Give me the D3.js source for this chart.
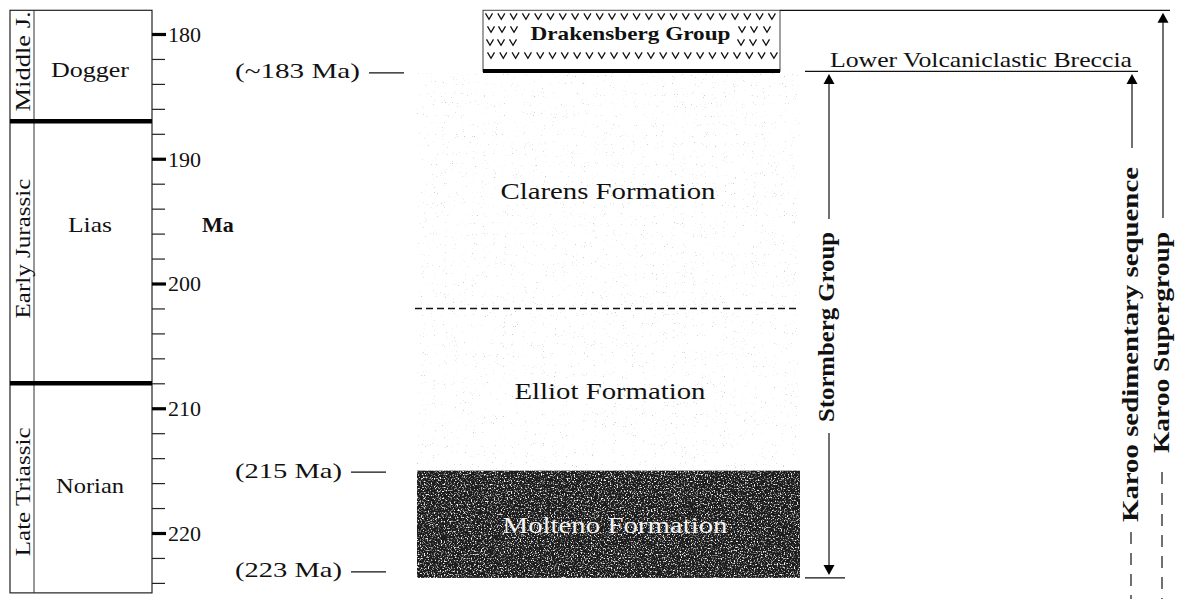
<!DOCTYPE html>
<html><head><meta charset="utf-8">
<script src="https://cdn.jsdelivr.net/npm/d3@7"></script>
<style>
body{margin:0;background:#fff;}
svg text{font-family:"Liberation Serif","Times New Roman",serif;fill:#111;}
</style></head><body>
<svg id="c" width="1179" height="599"></svg>
<script>
// ---------- data ----------
const ticksMajor = [180, 190, 200, 210, 220];
const ticksMinor = d3.range(180, 225, 2);
const periods = ["Middle J.", "Early Jurassic", "Late Triassic"];
const periodTops = [178.1, 187, 208];
const periodBases = [187, 208, 224.8];
const periodLabelAges = [182.2, 197.2, 216.7];
const periodLabelLen = [100, 140, 129];
const stages = ["Dogger", "Lias", "Norian"];
const stageLabelAges = [182.9, 195.3, 216.2];
const stageLabelLen = [78, 44, 68];
const units = ["Drakensberg Group", "Clarens Formation", "Elliot Formation", "Molteno Formation"];
const unitTops = [178.1, 183, 202, 215];
const unitBases = [183, 202, 215, 223.6];
const dateLabels = ["(~183 Ma)", "(215 Ma)", "(223 Ma)"];
const dateAges = [183, 215, 223];
const brackets = ["Stormberg Group", "Karoo sedimentary sequence", "Karoo Supergroup"];
const bracketTops = [183, 183, 178.1];
const breccia = "Lower Volcaniclastic Breccia";
const axisTitle = "Ma";

// ---------- setup ----------
const svg = d3.select("#c");
const y = d3.scaleLinear().domain([180, 220]).range([34, 533]);
const defs = svg.append("defs");

// speckle filter for Molteno
const fm = defs.append("filter").attr("id", "speck").attr("x", 0).attr("y", 0).attr("width", 1).attr("height", 1);
fm.append("feTurbulence").attr("type", "fractalNoise").attr("baseFrequency", 0.7).attr("numOctaves", 2).attr("seed", 7).attr("result", "n");
fm.append("feColorMatrix").attr("in", "n").attr("type", "matrix")
  .attr("values", "0 0 0 0 0.92  0 0 0 0 0.92  0 0 0 0 0.92  4.5 0 0 0 -2.35");
// stipple filter for Clarens/Elliot
const fs = defs.append("filter").attr("id", "stip").attr("x", 0).attr("y", 0).attr("width", 1).attr("height", 1);
fs.append("feTurbulence").attr("type", "fractalNoise").attr("baseFrequency", 0.9).attr("numOctaves", 2).attr("seed", 3).attr("result", "n");
fs.append("feColorMatrix").attr("in", "n").attr("type", "matrix")
  .attr("values", "0 0 0 0 0.6  0 0 0 0 0.6  0 0 0 0 0.6  7 0 0 0 -4.95");

// ---------- left column ----------
const colL = 10, colDiv = 34, colR = 152;
const left = svg.append("g");
left.append("rect").attr("x", colL).attr("y", y(periodTops[0])).attr("width", colR - colL)
  .attr("height", y(periodBases[2]) - y(periodTops[0])).attr("fill", "none").attr("stroke", "#222").attr("stroke-width", 1.2);
left.append("line").attr("x1", colDiv).attr("x2", colDiv).attr("y1", y(periodTops[0])).attr("y2", y(periodBases[2]))
  .attr("stroke", "#333").attr("stroke-width", 1);
left.selectAll("line.bound").data(periodTops.slice(1)).join("line").attr("class", "bound")
  .attr("x1", colL).attr("x2", colR).attr("y1", d => y(d)).attr("y2", d => y(d))
  .attr("stroke", "#000").attr("stroke-width", 4.5);
periods.forEach((p, i) => {
  left.append("text").attr("transform", `translate(30,${y(periodLabelAges[i])}) rotate(-90)`)
    .attr("text-anchor", "middle").attr("font-size", 22)
    .attr("textLength", periodLabelLen[i]).attr("lengthAdjust", "spacingAndGlyphs").text(p);
});
stages.forEach((s, i) => {
  left.append("text").attr("x", 90).attr("y", y(stageLabelAges[i]) + 7)
    .attr("text-anchor", "middle").attr("font-size", 22)
    .attr("textLength", stageLabelLen[i]).attr("lengthAdjust", "spacingAndGlyphs").text(s);
});

// axis
const gMinor = svg.append("g").attr("transform", `translate(${colR},0)`)
  .call(d3.axisRight(y).tickValues(ticksMinor).tickSize(13).tickFormat(""));
gMinor.select(".domain").remove();
gMinor.selectAll(".tick line").attr("stroke", "#222").attr("stroke-width", 1.2);
const gMajor = svg.append("g").attr("transform", `translate(${colR},0)`)
  .call(d3.axisRight(y).tickValues(ticksMajor).tickSize(14).tickPadding(2).tickFormat(d3.format("d")));
gMajor.select(".domain").remove();
gMajor.selectAll(".tick line").attr("stroke", "#000").attr("stroke-width", 3.2);
gMajor.selectAll(".tick text").attr("font-size", 22).attr("font-family", "Liberation Serif, serif").attr("fill", "#111").attr("dy", "0.33em");
svg.append("text").attr("x", 218).attr("y", y(195.3) + 7).attr("text-anchor", "middle")
  .attr("font-size", 22).attr("font-weight", "bold").text(axisTitle);

// ---------- central column ----------
const cx0 = 417, cx1 = 800;      // sedimentary column
const dx0 = 483, dx1 = 780;      // Drakensberg box
const mid = svg.append("g");
// stipple (Clarens + Elliot)
mid.append("rect").attr("x", cx0).attr("y", y(unitTops[1]) + 2).attr("width", cx1 - cx0)
  .attr("height", y(unitBases[2]) - y(unitTops[1]) - 2).attr("fill", "#fff").attr("filter", "url(#stip)");
// dashed boundary Clarens/Elliot
mid.append("line").attr("x1", cx0 - 2).attr("x2", cx1 - 2).attr("y1", y(unitBases[1])).attr("y2", y(unitBases[1]))
  .attr("stroke", "#111").attr("stroke-width", 1.5).attr("stroke-dasharray", "7,4");
// Molteno
mid.append("rect").attr("x", cx0).attr("y", y(unitTops[3])).attr("width", cx1 - cx0)
  .attr("height", y(unitBases[3]) - y(unitTops[3])).attr("fill", "#1c1c1c");
mid.append("rect").attr("x", cx0).attr("y", y(unitTops[3])).attr("width", cx1 - cx0)
  .attr("height", y(unitBases[3]) - y(unitTops[3])).attr("fill", "#fff").attr("filter", "url(#speck)");
// Drakensberg
mid.append("rect").attr("x", dx0).attr("y", y(unitTops[0])).attr("width", dx1 - dx0)
  .attr("height", y(unitBases[0]) - y(unitTops[0])).attr("fill", "#fff").attr("stroke", "#444").attr("stroke-width", 1);
const vPath = "M-3.5,-3 L0,3 L3.5,-3";
const vMarks = [];
const yT = y(unitTops[0]);
for (let x = dx0 + 6; x < dx1 - 3; x += 12.3) { vMarks.push([x, yT + 6]); vMarks.push([x + 2, yT + 45]); }
[dx0 + 8, dx0 + 19, dx0 + 31].forEach(x => { vMarks.push([x, yT + 19]); vMarks.push([x - 1, yT + 32]); });
[dx1 - 38, dx1 - 26, dx1 - 13].forEach(x => { vMarks.push([x, yT + 19]); vMarks.push([x - 1, yT + 32]); });
mid.selectAll("path.v").data(vMarks).join("path").attr("class", "v")
  .attr("d", vPath).attr("transform", d => `translate(${d[0]},${d[1]})`)
  .attr("fill", "none").attr("stroke", "#111").attr("stroke-width", 1.3);
mid.append("line").attr("x1", dx0).attr("x2", dx1).attr("y1", y(unitBases[0]) - 0.5).attr("y2", y(unitBases[0]) - 0.5)
  .attr("stroke", "#000").attr("stroke-width", 4);
mid.append("text").attr("x", (dx0 + dx1) / 2 - 1).attr("y", y(unitTops[0]) + 30).attr("text-anchor", "middle")
  .attr("font-size", 19).attr("font-weight", "bold").attr("textLength", 200).attr("lengthAdjust", "spacingAndGlyphs").text(units[0]);

// formation labels
const unitLabelLen = [200, 215, 191, 225];
const unitLabelX = [0, 608, 610, 615];
[1, 2, 3].forEach(i => {
  mid.append("text").attr("x", unitLabelX[i]).attr("y", y((unitTops[i] + unitBases[i]) / 2) + 9)
    .attr("text-anchor", "middle").attr("font-size", 24)
    .attr("textLength", unitLabelLen[i]).attr("lengthAdjust", "spacingAndGlyphs")
    .style("fill", i === 3 ? "#f4f4f4" : "#111").text(units[i]);
});

// date labels
const dateLen = [125, 107, 107];
dateLabels.forEach((t, i) => {
  const yy = y(dateAges[i]);
  mid.append("text").attr("x", 235).attr("y", yy + 7).attr("font-size", 22)
    .attr("textLength", dateLen[i]).attr("lengthAdjust", "spacingAndGlyphs").text(t);
  const x0 = 235 + dateLen[i] + 9;
  mid.append("line").attr("x1", x0).attr("x2", x0 + 35).attr("y1", yy + 1.5).attr("y2", yy + 1.5)
    .attr("stroke", "#111").attr("stroke-width", 1.3);
});

// ---------- right brackets ----------
const right = svg.append("g");
const st = "#111";
function arrowUp(x, tip) {
  right.append("path").attr("d", `M${x},${tip} L${x - 5.5},${tip + 10} L${x + 5.5},${tip + 10} Z`).attr("fill", "#000");
}
function arrowDown(x, tip) {
  right.append("path").attr("d", `M${x},${tip} L${x - 5.5},${tip - 10} L${x + 5.5},${tip - 10} Z`).attr("fill", "#000");
}
function vline(x, y1, y2, dash) {
  const l = right.append("line").attr("x1", x).attr("x2", x).attr("y1", y1).attr("y2", y2)
    .attr("stroke", st).attr("stroke-width", 1.2);
  if (dash) l.attr("stroke-dasharray", "12,9");
}
function vtext(t, xb, yc, len) {
  right.append("text").attr("transform", `translate(${xb},${yc}) rotate(-90)`).attr("text-anchor", "middle")
    .attr("font-size", 23).attr("font-weight", "bold")
    .attr("textLength", len).attr("lengthAdjust", "spacingAndGlyphs").text(t);
}
// top line of Karoo Supergroup
right.append("line").attr("x1", dx1).attr("x2", 1170).attr("y1", y(bracketTops[2])).attr("y2", y(bracketTops[2]))
  .attr("stroke", st).attr("stroke-width", 1.3);
// Lower Volcaniclastic Breccia line
right.append("line").attr("x1", 805).attr("x2", 1138).attr("y1", y(183)).attr("y2", y(183))
  .attr("stroke", st).attr("stroke-width", 1.3);
right.append("text").attr("x", 830).attr("y", y(183) - 4).attr("font-size", 22)
  .attr("textLength", 302).attr("lengthAdjust", "spacingAndGlyphs").text(breccia);

// Stormberg Group
const sx = 829;
arrowUp(sx, y(bracketTops[0]) + 2.5);
vline(sx, y(bracketTops[0]) + 12, 219);
vtext(brackets[0], 834, 327, 190);
vline(sx, 433, y(unitBases[3]) - 13);
arrowDown(sx, y(unitBases[3]) - 3);
right.append("line").attr("x1", 805).attr("x2", 845).attr("y1", y(unitBases[3])).attr("y2", y(unitBases[3]))
  .attr("stroke", st).attr("stroke-width", 1.3);

// Karoo sedimentary sequence
const kx = 1132;
arrowUp(kx, y(bracketTops[1]) + 2.5);
vline(kx, y(bracketTops[1]) + 12, 148);
vtext(brackets[1], 1138, 344.5, 355);
vline(kx - 1, 532, 599, true);

// Karoo Supergroup
const ksx = 1163;
arrowUp(ksx, y(bracketTops[2]) + 2.5);
vline(ksx, y(bracketTops[2]) + 12, 218);
vtext(brackets[2], 1169, 342.5, 221);
vline(ksx - 1, 472, 599, true);
</script>
</body></html>
